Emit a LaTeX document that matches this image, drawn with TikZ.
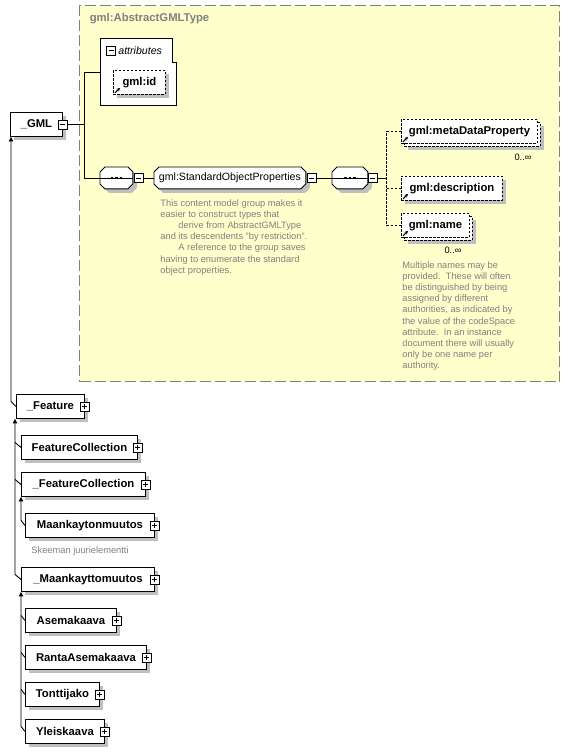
\documentclass[tikz,border=0pt]{standalone}
\usepackage{fontspec}
\setmainfont{Liberation Sans}
\usetikzlibrary{positioning,shadows,arrows.meta}

\definecolor{typefill}{HTML}{FFFFCC}
\definecolor{notegray}{HTML}{808080}

\begin{document}
\begin{tikzpicture}[x=1pt,y=-1pt,line width=0.9pt,
    elem/.style={draw,fill=white,anchor=north west,minimum height=24pt,inner sep=0pt,
        font=\fontsize{11.3}{13}\selectfont\bfseries,
        drop shadow={shadow xshift=4pt,shadow yshift=-4pt,fill=black!25,opacity=1}},
    opt/.style={elem,dash pattern=on 2.5pt off 1.5pt},
    optfront/.style={draw,fill=white,anchor=north west,minimum height=24pt,inner sep=0pt,
        dash pattern=on 2.5pt off 1.5pt,font=\fontsize{11.3}{13}\selectfont\bfseries},
    seqbox/.style={anchor=north west,minimum height=21pt,inner sep=0pt},
    octo/.style={fill=white,drop shadow={shadow xshift=4pt,shadow yshift=-4pt,fill=black!25,opacity=1}},
    pm/.style={draw,fill=white,minimum size=9pt,inner sep=0pt},
    minus/.style={pm,path picture={
        \draw ([xshift=2pt]path picture bounding box.west) -- ([xshift=-2pt]path picture bounding box.east);}},
    plus/.style={pm,path picture={
        \draw ([xshift=2pt]path picture bounding box.west) -- ([xshift=-2pt]path picture bounding box.east);
        \draw ([yshift=-2pt]path picture bounding box.north) -- ([yshift=2pt]path picture bounding box.south);}},
    ref/.style={-{Stealth[length=3.5pt,width=3.5pt]},line width=1.1pt},
    gen/.style={{Triangle[length=4.5pt,width=4.5pt]}-},
    note/.style={text=notegray,font=\fontsize{9.3}{11.2}\selectfont,align=left,inner sep=0pt,anchor=north west},
    occ/.style={font=\fontsize{9.3}{11}\selectfont,inner sep=0pt}
    ]

\useasboundingbox (0,0) rectangle (570,753);

% Complex type background
\node[draw=notegray,line width=1pt,dash pattern=on 11pt off 4pt,fill=typefill,anchor=north west,
    minimum width=480,minimum height=376] (abstype) at (79,5) {};
\node[anchor=west,text=notegray,font=\fontsize{11.3}{13}\selectfont\bfseries] (typeT) at (86,19) {gml:AbstractGMLType};

% Root element
\node[elem,minimum width=52] (GML) at (10,112) {\_GML};
\node[minus] (GMLm) at (GML.east) {};

% Attributes
\node[anchor=north west,minimum width=76,minimum height=67,inner sep=0pt] (attr) at (100,38) {};
\draw[fill=white] (attr.north west) -- ([xshift=-4]attr.north east) -- ++(0,24) -- ++(4,0)
    -- (attr.south east) -- (attr.south west) -- cycle;
\node[minus] (attrm) at (111,50.5) {};
\node[right=2pt of attrm,inner sep=0pt,font=\fontsize{10.6}{12}\selectfont\itshape] (attrT) {attributes};
\node[opt,minimum width=52] (id) at (113,70) {gml:id};
\draw[ref] ([shift={(2,-2)}]id.south west) -- ++(5,-5);

% Sequence of standard properties
\node[seqbox,minimum width=32] (seqA) at (100,167) {};
\node[seqbox,minimum width=151] (SOP) at (154,167) {};
\node[seqbox,minimum width=35] (seqB) at (332,167) {};
\foreach \s in {seqA,SOP,seqB}
    \draw[octo] ([xshift=5]\s.north west) -- ([xshift=-5]\s.north east) -- ([yshift=-5]\s.north east)
        -- ([yshift=5]\s.south east) -- ([xshift=-5]\s.south east) -- ([xshift=5]\s.south west)
        -- ([yshift=5]\s.south west) -- ([yshift=-5]\s.north west) -- cycle;
\foreach \s in {seqA,seqB} {
    \draw (\s.west) -- (\s.east);
    \foreach \d in {-4.5,0,4.5}
        \fill ([xshift=\d]\s.center) +(-1.4,-1.2) rectangle +(1.4,1.2);
}
\node[font=\fontsize{10.6}{12}\selectfont,inner sep=0pt] (SOPT) at (SOP.center) {gml:StandardObjectProperties};
\node[minus,right=1pt of seqA] (seqAm) {};
\node[minus,right=1pt of SOP] (SOPm) {};
\node[minus,right=0pt of seqB] (seqBm) {};

\coordinate (gj) at ([xshift=17]GMLm.east);
\draw (GMLm.east) -- (gj);
\draw (attr.west) -| (gj) |- (seqA.west);
\draw (seqAm.east) -- (SOP.west);
\draw (SOPm.east) -- (seqB.west);

% Optional members
\node[opt,minimum width=136] (metaB) at (404,122) {};
\node[optfront,minimum width=136] (meta) at (401,119) {gml:metaDataProperty};
\draw[ref] ([shift={(2,-2)}]meta.south west) -- ++(5,-5);
\node[occ] (metaO) at (523,157) {0..∞};

\node[opt,minimum width=101] (desc) at (401,176) {gml:description};
\draw[ref] ([shift={(2,-2)}]desc.south west) -- ++(5,-5);

\node[opt,minimum width=68] (nameB) at (404,216) {};
\node[optfront,minimum width=68] (name) at (401,213) {gml:name};
\draw[ref] ([shift={(2,-2)}]name.south west) -- ++(5,-5);
\node[occ] (nameO) at (453,250) {0..∞};

\coordinate (choice) at ([xshift=9]seqBm.east);
\draw (seqBm.east) -- (choice);
\draw[dash pattern=on 2.5pt off 1.5pt] (meta.west) -| (choice) |- (name.west);
\draw[dash pattern=on 2.5pt off 1.5pt] (choice |- desc.west) -- (desc.west);

% Annotations
\node[note] (sopNote) at (160,199) {This content model group makes it\\
easier to construct types that\\
\hspace*{18pt}derive from AbstractGMLType\\
and its descendents "by restriction".\\
\hspace*{18pt}A reference to the group saves\\
having to enumerate the standard\\
object properties.};
\node[note] (nameNote) at (402,261) {Multiple names may be\\
provided.\ \ These will often\\
be distinguished by being\\
assigned by different\\
authorities, as indicated by\\
the value of the codeSpace\\
attribute.\ \ In an instance\\
document there will usually\\
only be one name per\\
authority.};

% Substitution tree
\node[elem,minimum width=68] (Feature) at (16,394) {\_Feature};
\node[plus] (Featurep) at (Feature.east) {};
\node[elem,minimum width=116] (FC) at (21,435) {FeatureCollection};
\node[plus] (FCp) at (FC.east) {};
\node[elem,minimum width=124] (uFC) at (21,472) {\_FeatureCollection};
\node[plus] (uFCp) at (uFC.east) {};
\node[elem,minimum width=129] (Mk) at (25,513) {Maankaytonmuutos};
\node[plus] (Mkp) at (Mk.east) {};
\node[note,below right=8pt and 6pt of Mk.south west] (MkNote) {Skeeman juurielementti};
\node[elem,minimum width=133] (uMk) at (21,567) {\_Maankayttomuutos};
\node[plus] (uMkp) at (uMk.east) {};
\node[elem,minimum width=91] (Asema) at (25,608) {Asemakaava};
\node[plus] (Asemap) at (Asema.east) {};
\node[elem,minimum width=121] (Ranta) at (25,645) {RantaAsemakaava};
\node[plus] (Rantap) at (Ranta.east) {};
\node[elem,minimum width=74] (Tontti) at (25,682) {Tonttijako};
\node[plus] (Tonttip) at (Tontti.east) {};
\node[elem,minimum width=79] (Yleis) at (25,719) {Yleiskaava};
\node[plus] (Yleisp) at (Yleis.east) {};

\coordinate (gmlT) at ([xshift=1]GML.south west);
\draw[gen] (gmlT) -- ([yshift=5pt]gmlT |- Feature.west) -- (Feature.west);

\coordinate (featT) at ([xshift=-1]Feature.south west);
\draw[gen] (featT) -- ([yshift=5pt]featT |- uMk.west) -- (uMk.west);
\foreach \c in {FC,uFC}
    \draw ([yshift=5pt]featT |- \c.west) -- (\c.west);

\coordinate (ufcT) at (uFC.south west);
\draw[gen] (ufcT) -- ([yshift=5pt]ufcT |- Mk.west) -- (Mk.west);

\coordinate (umkT) at (uMk.south west);
\draw[gen] (umkT) -- ([yshift=5pt]umkT |- Yleis.west) -- (Yleis.west);
\foreach \c in {Asema,Ranta,Tontti}
    \draw ([yshift=5pt]umkT |- \c.west) -- (\c.west);

\end{tikzpicture}
\end{document}
